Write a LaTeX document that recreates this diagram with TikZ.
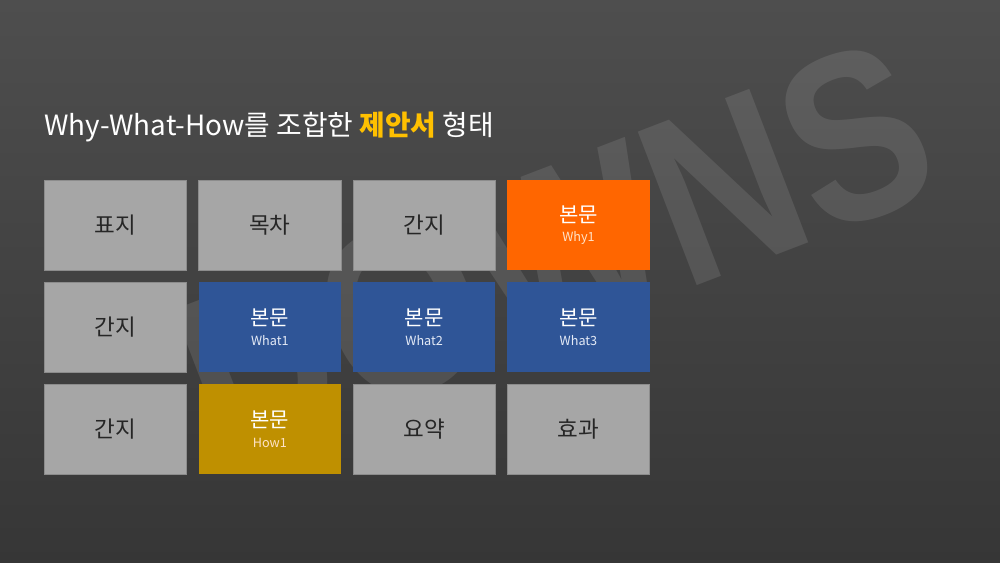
\documentclass[tikz,border=0pt]{standalone}
\usepackage{fontspec}
\setmainfont{Noto Sans CJK KR}
\newfontfamily\markfont{Liberation Sans}
\definecolor{bgtop}{HTML}{4E4E4E}
\definecolor{bgbottom}{HTML}{363636}
\definecolor{tilegray}{HTML}{A6A6A6}
\definecolor{tileedge}{HTML}{8C8C8C}
\definecolor{whyorange}{HTML}{FF6600}
\definecolor{whatblue}{HTML}{2F5597}
\definecolor{howgold}{HTML}{BF9000}
\definecolor{titleyellow}{HTML}{FFC000}
\definecolor{cream}{HTML}{FFE3C8}
\definecolor{paleblue}{HTML}{E4EAF6}
\tikzset{
  tile/.style={minimum width=3.55cm, minimum height=2.25cm, inner sep=0pt},
  graytile/.style={tile, fill=tilegray, draw=tileedge, line width=0.5pt, text=black!85,
    font=\fontsize{16}{18}\selectfont},
  bodytile/.style={tile, align=center, text=white, font=\fontsize{15}{15}\selectfont}
}
\newcommand{\subline}[1]{\\[-1pt]{\fontsize{9}{10}\selectfont #1}}
\begin{document}
\begin{tikzpicture}[x=0.025cm,y=-0.025cm]
\shade[top color=bgtop, bottom color=bgbottom] (0,0) rectangle (1000,563);
\useasboundingbox (0,0) rectangle (1000,563);
% watermark
\node[rotate=21, xscale=0.85, text=white, opacity=0.1,
  font=\markfont\bfseries\fontsize{170}{170}\selectfont] (mark) at (555,252) {DOWNS};
% title
\node[anchor=base west, inner sep=0pt, text=white, font=\fontsize{19.8}{22}\selectfont]
  (title) at (44,136) {Why-What-How를 조합한 \textcolor{titleyellow}{\bfseries 제안서} 형태};
% gray tiles
\foreach \nm/\cx/\cy/\txt in {cover/0/0/표지, toc/1/0/목차, sepA/2/0/간지,
  sepB/0/1/간지, sepC/0/2/간지, summary/2/2/요약, effect/3/2/효과} {
  \node[graytile] (\nm) at (115.5+154.33*\cx, 225+102*\cy) {\txt};
};
% body tiles
\foreach \nm/\cx/\cy/\clr/\subclr/\sub in {why1/3/0/whyorange/cream/Why1,
  what1/1/1/whatblue/paleblue/What1, what2/2/1/whatblue/paleblue/What2,
  what3/3/1/whatblue/paleblue/What3, how1/1/2/howgold/cream/How1} {
  \node[bodytile, fill=\clr] (\nm) at (115.5+154.33*\cx, 225+102*\cy)
    {본문\subline{\textcolor{\subclr}{\sub}}};
};
\end{tikzpicture}
\end{document}
